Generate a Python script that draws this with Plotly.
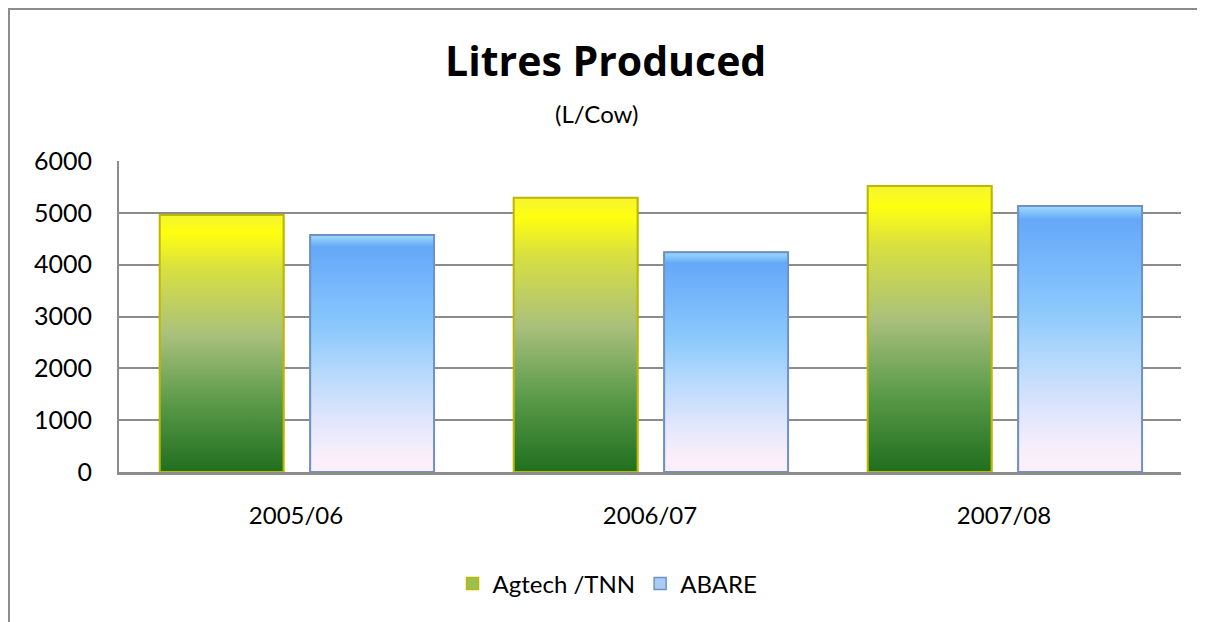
import plotly.graph_objects as go

# data
years = ["2005/06", "2006/07", "2007/08"]
agtech = [4960, 5290, 5520]
abare = [4570, 4240, 5130]

FONT = "Lato, 'Open Sans', sans-serif"
GRID = "#8c8c8c"
BAR_WIDTH = 0.35

# gradient stops run bottom (0) -> top (1)
SERIES = [
    dict(name="Agtech /TNN", values=agtech, offset=-0.385, legend="#9cc050", edge="#bcb800",
         scale=[[0.0, "#1f6f1f"], [0.27, "#5a9a48"], [0.53, "#a9c07c"],
                [0.79, "#d8e040"], [0.93, "#ffff10"], [1.0, "#f4f430"]]),
    dict(name="ABARE", values=abare, offset=0.04, legend="#a8cdf4", edge="#7090c8",
         scale=[[0.0, "#fcf0fa"], [0.08, "#f8eefa"], [0.22, "#e0e6fc"], [0.43, "#b4d8fc"],
                [0.60, "#8ccafc"], [0.74, "#7cbcfc"], [0.95, "#64a8f8"], [1.0, "#a0dcfc"]]),
]

fig = go.Figure()
idx = list(range(len(years)))

for s in SERIES:
    fig.add_trace(go.Bar(
        x=idx, y=s["values"], name=s["name"], width=BAR_WIDTH, offset=s["offset"],
        marker=dict(color=s["legend"], line=dict(color=s["edge"], width=1.5)),
        hovertext=years, hovertemplate="%{hovertext}: %{y}<extra>" + s["name"] + "</extra>",
    ))

# gradient faces laid over each bar, one trace per bar so each spans its own height
for s in SERIES:
    for i, v in zip(idx, s["values"]):
        x0 = i + s["offset"]
        x1 = x0 + BAR_WIDTH
        fig.add_trace(go.Scatter(
            x=[x0, x0, x1, x1, x0], y=[0, v, v, 0, 0], mode="lines", fill="toself",
            fillgradient=dict(type="vertical", colorscale=s["scale"]),
            line=dict(color=s["edge"], width=2), showlegend=False, hoverinfo="skip",
        ))

# the page body adds an 8px offset, margins allow for it
fig.update_layout(
    width=1205, height=622,
    paper_bgcolor="white", plot_bgcolor="white",
    font=dict(family=FONT, color="black", size=24),
    margin=dict(l=111, r=32, t=153, b=158),
    title=dict(text="<b>Litres Produced</b>", x=0.496, xanchor="center",
               y=0.913, yanchor="middle", yref="container",
               font=dict(size=41, family="'Open Sans', sans-serif", color="black")),
    showlegend=True,
    legend=dict(orientation="h", x=0.46, xanchor="center", y=-0.36, yanchor="middle",
                font=dict(size=24), itemclick=False, traceorder="normal"),
    xaxis=dict(range=[-0.5, len(years) - 0.5], tickvals=idx, ticktext=years,
               showgrid=False, zeroline=False, showline=True, linecolor=GRID, linewidth=3,
               ticks="", ticklabelstandoff=20, tickfont=dict(size=24)),
    yaxis=dict(range=[0, 6000], dtick=1000, showgrid=True, gridcolor=GRID, gridwidth=2,
               zeroline=False, showline=True, linecolor=GRID, linewidth=2,
               ticks="", ticklabelstandoff=20, tickfont=dict(size=25)),
    annotations=[dict(text="(L/Cow)", x=0.45, y=1.154, xref="paper", yref="paper",
                      showarrow=False, xanchor="center", yanchor="middle",
                      font=dict(size=24, family=FONT))],
    shapes=[dict(type="rect", xref="paper", yref="paper",
                 x0=-0.1036, x1=1.3, y0=-1.0, y1=1.4887,
                 line=dict(color=GRID, width=2), fillcolor="rgba(0,0,0,0)", layer="below")],
)

fig.write_html("out.html")
